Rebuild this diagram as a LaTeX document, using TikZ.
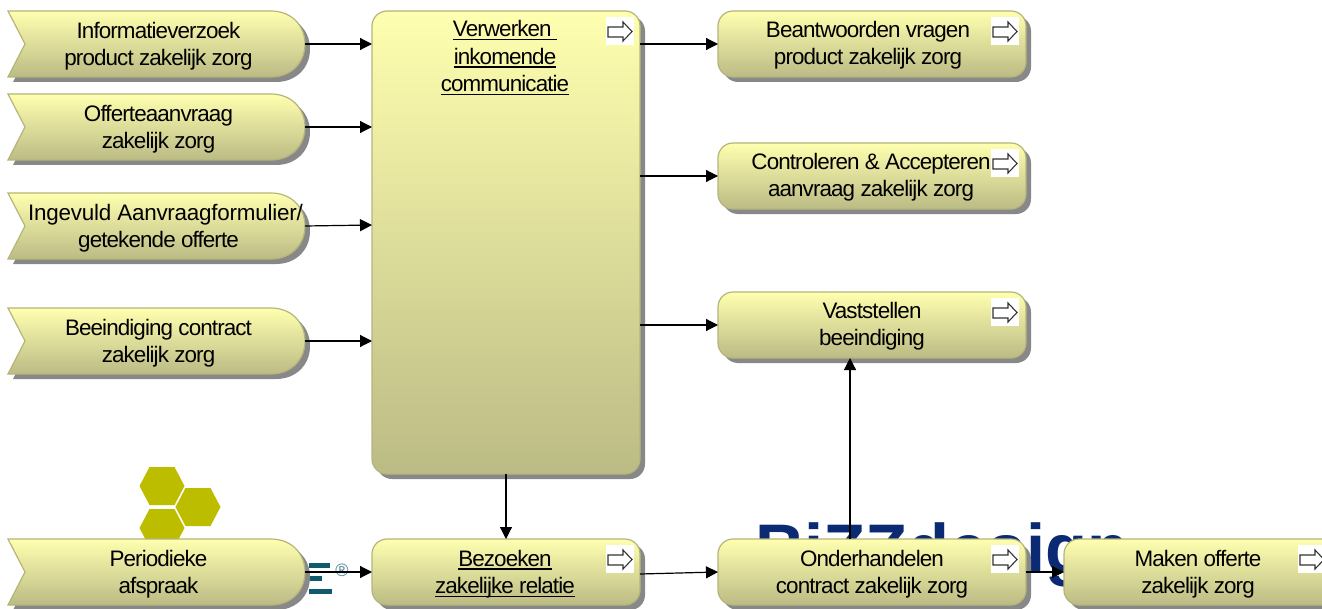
\documentclass[tikz,border=0pt]{standalone}
\usepackage{fontspec}
\setmainfont{Liberation Sans}[LetterSpace=-4]
\newfontfamily\logofont{Liberation Sans}
\usetikzlibrary{calc,arrows.meta}
\definecolor{topc}{HTML}{FFFFB0}
\definecolor{botc}{HTML}{BBBB85}
\definecolor{edgec}{HTML}{B5B57A}
\definecolor{shadc}{HTML}{888888}
\definecolor{logoblue}{HTML}{0B2A74}
\definecolor{logoteal}{HTML}{0F5A6B}
\definecolor{hexc}{HTML}{BDBD00}
\tikzset{
  x=1bp,y=-1bp,
  boxshade/.style={top color=topc,bottom color=botc,draw=edgec,line width=1.2pt},
  shadowfill/.style={fill=shadc,draw=none},
  lbl/.style={align=center,font=\fontsize{22.5}{27.5}\selectfont,text=black,inner sep=0pt,outer sep=0pt},
  holder/.style={inner sep=0pt,outer sep=0pt,draw=none},
  conn/.style={draw=black,line width=1.2pt,-{Triangle[length=12bp,width=12bp]}},
  iconbg/.style={fill=white,draw=none},
  iconarrow/.style={draw=black!80,fill=white,line width=1.1pt},
  hex/.style={fill=hexc,draw=none},
  bar/.style={fill=logoteal,draw=none}
}
\newcommand{\ulin}[1]{\leavevmode\sbox0{#1}\rlap{\rule[-3.5bp]{\wd0}{1.4bp}}\box0 }
% name, x1, y1, x2, y2
\newcommand{\actbox}[5]{%
  \fill[shadowfill,rounded corners=15bp] (#2+5,#3+5) rectangle (#4+5,#5+5);
  \shade[boxshade,rounded corners=15bp] (#2,#3) rectangle (#4,#5);
  \node[holder,minimum width=#4bp-#2bp,minimum height=#5bp-#3bp] (#1) at ({(#2+#4)/2},{(#3+#5)/2}) {};
}
\newcommand{\sigpath}[4]{(#1,#2) -- (#3-34,#2) .. controls (#3-14,#2) and (#3,{#2+14}) .. (#3,{(#2+#4)/2}) .. controls (#3,{#4-14}) and (#3-14,#4) .. (#3-34,#4) -- (#1,#4) -- (#1+17,{(#2+#4)/2}) -- cycle}
\newcommand{\sigbox}[6]{%
  \fill[shadowfill] \sigpath{#2+5}{#3+5}{#4+5}{#5+5};
  \shade[boxshade] \sigpath{#2}{#3}{#4}{#5};
  \node[holder,minimum width=#4bp-#2bp,minimum height=#5bp-#3bp] (#1) at ({(#2+#4)/2},{(#3+#5)/2}) {};
  \node[lbl] (#1t) at ({(#2+#4)/2+2},{(#3+#5)/2+2}) {#6};
}
\newcommand{\icon}[2]{%
  \fill[iconbg] (#1,#2) rectangle (#1+28,#2+28);
  \draw[iconarrow] (#1+2,#2+10) -- (#1+17,#2+10) -- (#1+17,#2+5) -- (#1+26,#2+14.5) -- (#1+17,#2+24) -- (#1+17,#2+20) -- (#1+2,#2+20) -- cycle;
}
\begin{document}
\begin{tikzpicture}
\useasboundingbox (0,0) rectangle (1322,609);
\fill[white] (0,0) rectangle (1322,609);
% logos behind
\foreach \cx/\cy in {162/486,198/507,162/528}{
  \fill[hex] (\cx-22.5,\cy) -- (\cx-12.5,\cy-19) -- (\cx+12.5,\cy-19) -- (\cx+22.5,\cy) -- (\cx+12.5,\cy+19) -- (\cx-12.5,\cy+19) -- cycle;
}
\fill[bar] (309,563) rectangle (330,567.5);
\fill[bar] (309,576) rectangle (322,580.5);
\fill[bar] (309,589) rectangle (332,593.5);
\node[holder,font=\fontsize{18}{18}\selectfont,text=logoteal!75] (reg) at (342,570.5) {®};
\node[holder,anchor=base west,font=\logofont\bfseries\fontsize{69}{69}\selectfont,text=logoblue] (logo) at (755,572) {BiZZdesign};
% shapes
\sigbox{s1}{8}{11}{305}{77}{Informatieverzoek\\product zakelijk zorg}
\sigbox{s2}{8}{94}{305}{160}{Offerteaanvraag\\zakelijk zorg}
\sigbox{s3}{8}{193}{305}{259}{\hspace*{14bp}{\addfontfeature{LetterSpace=-1}Ingevuld Aanvraagformulier/}\\getekende offerte}
\sigbox{s4}{8}{308}{305}{374}{Beeindiging contract\\zakelijk zorg}
\sigbox{s5}{8}{539}{305}{605}{Periodieke\\afspraak}
\actbox{big}{372}{11}{640}{474}
\actbox{bez}{372}{539}{640}{605}
\actbox{bea}{718}{11}{1026}{77}
\actbox{con}{718}{143}{1026}{209}
\actbox{vas}{718}{292}{1026}{358}
\actbox{ond}{718}{539}{1026}{605}
\actbox{mak}{1064}{539}{1345}{605}
\node[lbl] (bigt) at (505,58) {\ulin{Verwerken\ }\\\ulin{inkomende}\\\ulin{communicatie}};
\node[lbl] (bezt) at (505,574) {\ulin{Bezoeken}\\\ulin{zakelijke relatie}};
\node[lbl] (beat) at (868,45.5) {Beantwoorden vragen\\product zakelijk zorg};
\node[lbl] (cont) at (871,177.5) {Controleren \& Accepteren\\aanvraag zakelijk zorg};
\node[lbl] (vast) at (872,326.5) {Vaststellen\\beeindiging};
\node[lbl] (ondt) at (872,574) {Onderhandelen\\contract zakelijk zorg};
\node[lbl] (makt) at (1198,574) {Maken offerte\\zakelijk zorg};
\icon{606}{17}
\icon{606}{545}
\icon{991}{17}
\icon{991}{149}
\icon{991}{298}
\icon{991}{545}
\icon{1298}{545}
% connectors
\draw[conn] (s1.east) -- (s1.east -| big.west);
\draw[conn] (s2.east) -- (s2.east -| big.west);
\draw[conn] (s3.east) -- ($(s3.east -| big.west)+(0,-1)$);
\draw[conn] (s4.east) -- (s4.east -| big.west);
\draw[conn] (s5.east) -- (s5.east -| bez.west);
\draw[conn] ($(big.east |- bea.west)$) -- (bea.west);
\draw[conn] ($(big.east |- con.west)$) -- (con.west);
\draw[conn] ($(big.east |- vas.west)$) -- (vas.west);
\draw[conn] (big.south -| bez.north) -- (bez.north);
\draw[conn] ($(bez.east)+(0,2)$) -- (ond.west);
\draw[conn] ($(ond.north)+(-22,0)$) -- ($(vas.south)+(-22,0)$);
\draw[conn] (ond.east) -- (mak.west);
\end{tikzpicture}
\end{document}
